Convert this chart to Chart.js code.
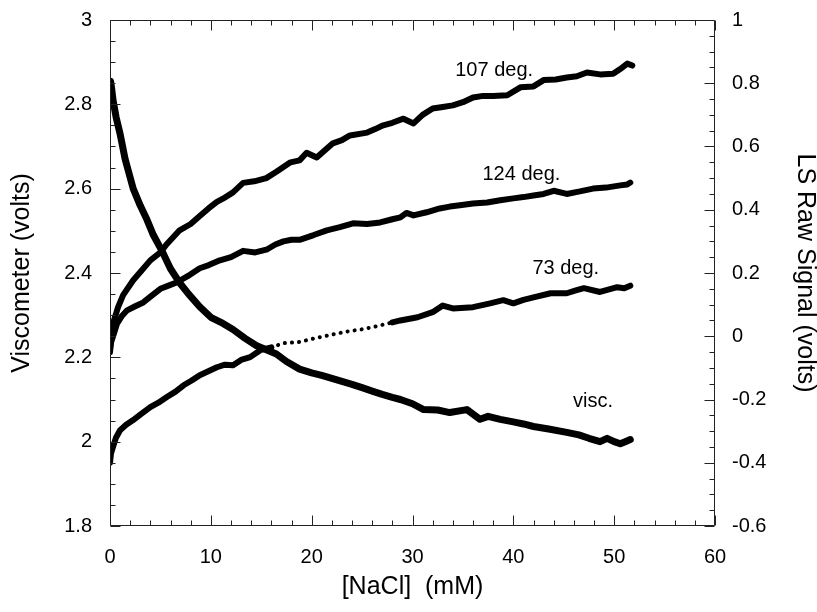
<!DOCTYPE html>
<html><head><meta charset="utf-8">
<script src="https://cdn.jsdelivr.net/npm/chart.js@4.4.1/dist/chart.umd.min.js"></script>
<style>html,body{margin:0;padding:0;background:#fff}#wrap{width:817px;height:612px;position:relative}</style>
</head><body><div id="wrap"><canvas id="c"></canvas></div>
<script>
// ---------- data ----------
const xTickVals   = [0, 10, 20, 30, 40, 50, 60];
const xTickLabels = ['0', '10', '20', '30', '40', '50', '60'];
const yTickVals   = [1.8, 2.0, 2.2, 2.4, 2.6, 2.8, 3.0];
const yTickLabels = ['1.8', '2', '2.2', '2.4', '2.6', '2.8', '3'];
const y1TickVals   = [-0.6, -0.4, -0.2, 0, 0.2, 0.4, 0.6, 0.8, 1.0];
const y1TickLabels = ['-0.6', '-0.4', '-0.2', '0', '0.2', '0.4', '0.6', '0.8', '1'];

// viscometer (left axis, volts)
const viscX = [0, 0.05, 0.15, 0.3, 0.6, 1.0, 1.5, 2.3, 3.0, 3.6, 4.3, 5.1, 6.0, 6.9, 7.8, 8.9, 10.0, 11.0, 12.2, 13.4, 14.5, 15.5, 16.5, 17.5, 18.8, 20, 21, 22, 23, 24, 25, 26, 27, 28, 28.8, 30, 31.1, 32.5, 33.7, 35.4, 36.7, 37.5, 38.7, 40, 41, 42, 43.5, 45.3, 46.5, 47.5, 48.6, 49.3, 50, 50.6, 51.1, 51.6];
const viscY = [2.81, 2.855, 2.84, 2.81, 2.77, 2.73, 2.67, 2.60, 2.56, 2.53, 2.49, 2.455, 2.41, 2.377, 2.35, 2.32, 2.295, 2.283, 2.266, 2.245, 2.228, 2.218, 2.208, 2.19, 2.172, 2.163, 2.157, 2.15, 2.143, 2.136, 2.128, 2.12, 2.112, 2.105, 2.10, 2.09, 2.076, 2.075, 2.069, 2.076, 2.053, 2.06, 2.053, 2.047, 2.042, 2.036, 2.03, 2.022, 2.016, 2.008, 2.0, 2.008, 2.0, 1.995, 2.0, 2.005];

// light scattering 107 deg (right axis, volts)
const ls107X = [0, 0.1, 0.3, 0.8, 1.3, 2.3, 3.2, 4.0, 5.0, 5.6, 6.9, 8.0, 8.9, 9.8, 10.6, 11.2, 12.2, 13.2, 14.3, 15.5, 16.5, 17.9, 18.8, 19.5, 20.5, 21.2, 22.1, 23.0, 23.8, 25.5, 26.3, 27.1, 28.0, 29.1, 30.1, 31.0, 32.0, 33.0, 34.0, 35.0, 36.0, 37.0, 38.0, 39.4, 40.7, 42.0, 43.0, 44.2, 45.3, 46.3, 47.3, 48.6, 49.9, 50.6, 51.3, 51.8];
const ls107Y = [-0.04, -0.01, 0.041, 0.092, 0.13, 0.177, 0.21, 0.24, 0.265, 0.29, 0.335, 0.355, 0.38, 0.405, 0.425, 0.435, 0.455, 0.485, 0.49, 0.50, 0.52, 0.55, 0.556, 0.58, 0.565, 0.585, 0.61, 0.62, 0.635, 0.644, 0.655, 0.667, 0.675, 0.688, 0.673, 0.70, 0.72, 0.725, 0.73, 0.74, 0.755, 0.76, 0.76, 0.762, 0.787, 0.79, 0.81, 0.812, 0.818, 0.822, 0.834, 0.828, 0.83, 0.845, 0.862, 0.856];

// light scattering 124 deg
const ls124X = [0, 0.1, 0.3, 0.7, 1.2, 1.7, 2.5, 3.3, 4.2, 5.0, 5.8, 6.6, 7.7, 8.9, 9.8, 10.9, 12.0, 13.2, 14.4, 15.6, 16.4, 17.2, 18.0, 18.8, 20.2, 21.5, 22.8, 24.1, 25.5, 26.8, 28.0, 28.8, 29.4, 30.1, 31.4, 32.7, 33.7, 34.7, 36.0, 37.4, 38.7, 40.0, 41.0, 42.0, 43.0, 44.0, 45.3, 46.6, 47.9, 49.2, 50.6, 51.3, 51.6];
const ls124Y = [-0.05, -0.02, 0.0, 0.04, 0.065, 0.082, 0.095, 0.107, 0.13, 0.15, 0.16, 0.17, 0.19, 0.215, 0.225, 0.24, 0.25, 0.27, 0.265, 0.275, 0.29, 0.30, 0.305, 0.305, 0.32, 0.335, 0.345, 0.357, 0.355, 0.36, 0.37, 0.376, 0.39, 0.382, 0.392, 0.404, 0.41, 0.414, 0.42, 0.423, 0.43, 0.436, 0.44, 0.445, 0.45, 0.46, 0.45, 0.458, 0.467, 0.47, 0.477, 0.48, 0.486];

// light scattering 73 deg
const ls73X = [0, 0.1, 0.3, 0.6, 1.0, 1.6, 2.3, 3.0, 4.0, 4.8, 5.6, 6.5, 7.3, 8.1, 8.9, 9.8, 10.6, 11.4, 12.2, 13.0, 13.9, 14.9, 16.0, 17.2, 18.8, 20.5, 22.0, 23.5, 25.0, 26.5, 28.0, 28.8, 30.5, 32.0, 33.0, 34.0, 36.0, 37.7, 39.0, 40.0, 41.0, 42.0, 43.7, 45.3, 46.2, 47.0, 48.6, 49.5, 50.3, 51.0, 51.6];
const ls73Y = [-0.40, -0.37, -0.35, -0.32, -0.297, -0.28, -0.265, -0.248, -0.224, -0.21, -0.193, -0.175, -0.155, -0.14, -0.123, -0.11, -0.098, -0.09, -0.092, -0.075, -0.066, -0.044, -0.035, -0.022, -0.018, -0.005, 0.005, 0.015, 0.022, 0.032, 0.044, 0.05, 0.06, 0.076, 0.097, 0.088, 0.092, 0.104, 0.114, 0.104, 0.115, 0.123, 0.136, 0.136, 0.145, 0.152, 0.14, 0.148, 0.155, 0.152, 0.16];

// curve labels (text, and the data point they sit at on the x / right axes)
const curveLabelText = ['107 deg.', '124 deg.', '73 deg.', 'visc.'];
const curveLabelX    = [38.1, 40.8, 45.2, 47.9];
const curveLabelY    = [0.84, 0.512, 0.215, -0.205];

// ---------- chart ----------
const FONT = "'Liberation Sans', Arial, Helvetica, sans-serif";
const pts = (xs, ys) => xs.map((x, i) => ({x: x, y: ys[i]}));

const frameTicks = {
  id: 'frameTicks',
  afterDatasetsDraw(chart) {
    const {ctx, chartArea: a, scales} = chart;
    const L = Math.round(a.left) + 0.5, R = Math.round(a.right) - 0.5;
    const T = Math.round(a.top) + 0.5, B = Math.round(a.bottom) - 0.5;
    ctx.save();
    ctx.strokeStyle = '#222';
    ctx.lineWidth = 1;
    ctx.beginPath();
    ctx.moveTo(L, T); ctx.lineTo(R, T); ctx.lineTo(R, B); ctx.lineTo(L, B); ctx.closePath();
    for (let i = 0; i <= 30; i++) {
      const px = Math.round(scales.x.getPixelForValue(i * 2)) + 0.5;
      const len = (i % 5 === 0) ? 10 : 5;
      ctx.moveTo(px, B); ctx.lineTo(px, B - len);
      ctx.moveTo(px, T); ctx.lineTo(px, T + len);
    }
    for (let i = 0; i <= 24; i++) {
      const py = Math.round(scales.y.getPixelForValue(1.8 + i * 0.05)) + 0.5;
      const len = (i % 4 === 0) ? 10 : 5;
      ctx.moveTo(L, py); ctx.lineTo(L + len, py);
    }
    for (let i = 0; i <= 32; i++) {
      const py = Math.round(scales.y1.getPixelForValue(-0.6 + i * 0.05)) + 0.5;
      const len = (i % 4 === 0) ? 10 : 5;
      ctx.moveTo(R, py); ctx.lineTo(R - len, py);
    }
    ctx.stroke();
    ctx.fillStyle = '#000';
    ctx.font = '20px ' + FONT;
    ctx.textAlign = 'center';
    ctx.textBaseline = 'middle';
    curveLabelText.forEach((t, i) => {
      ctx.fillText(t, scales.x.getPixelForValue(curveLabelX[i]), scales.y1.getPixelForValue(curveLabelY[i]));
    });
    ctx.restore();
  }
};

const lineDs = (label, data, axis, width) => ({
  label, data, yAxisID: axis,
  borderColor: '#000', backgroundColor: '#000',
  borderWidth: width, pointRadius: 0, tension: 0,
  borderJoinStyle: 'round', borderCapStyle: 'round', fill: false
});

const ds73 = lineDs('73 deg.', pts(ls73X, ls73Y), 'y1', 6);
ds73.segment = {
  borderDash: c => (c.p0.parsed.x >= 16 && c.p1.parsed.x <= 28.1) ? [0.1, 7] : undefined,
  borderWidth: c => (c.p0.parsed.x >= 16 && c.p1.parsed.x <= 28.1) ? 4 : 6
};

const hiddenGrid = len => ({display: false, drawOnChartArea: false, drawTicks: true, tickLength: len, tickColor: 'rgba(0,0,0,0)'});

new Chart(document.getElementById('c'), {
  type: 'line',
  data: {
    datasets: [
      lineDs('visc.', pts(viscX, viscY), 'y', 7),
      lineDs('107 deg.', pts(ls107X, ls107Y), 'y1', 6),
      lineDs('124 deg.', pts(ls124X, ls124Y), 'y1', 6),
      ds73
    ]
  },
  options: {
    responsive: true,
    maintainAspectRatio: false,
    animation: false,
    devicePixelRatio: 1,
    layout: {padding: {top: 20, left: 0, right: 0, bottom: 0}},
    plugins: {legend: {display: false}, tooltip: {enabled: false}},
    scales: {
      x: {
        type: 'linear', position: 'bottom', min: 0, max: 60,
        grid: hiddenGrid(19), border: {display: false},
        afterBuildTicks: s => { s.ticks = xTickVals.map(v => ({value: v})); },
        afterFit: s => { s.height = 86; },
        ticks: {color: '#000', padding: 0, maxRotation: 0, font: {family: FONT, size: 20},
                callback: (v, i) => xTickLabels[i]},
        title: {display: true, text: '[NaCl]  (mM)', color: '#000',
                font: {family: FONT, size: 25, lineHeight: 1}, padding: {top: 0, bottom: 12}}
      },
      y: {
        type: 'linear', position: 'left', min: 1.8, max: 3.0,
        grid: hiddenGrid(18), border: {display: false},
        afterBuildTicks: s => { s.ticks = yTickVals.map(v => ({value: v})); },
        afterFit: s => { s.width = 110; },
        ticks: {color: '#000', padding: 0, font: {family: FONT, size: 20},
                callback: (v, i) => yTickLabels[i]},
        title: {display: true, text: 'Viscometer (volts)', color: '#000',
                font: {family: FONT, size: 25, lineHeight: 1}, padding: {top: 10, bottom: 0}}
      },
      y1: {
        type: 'linear', position: 'right', min: -0.6, max: 1.0,
        grid: hiddenGrid(17), border: {display: false},
        afterBuildTicks: s => { s.ticks = y1TickVals.map(v => ({value: v})); },
        afterFit: s => { s.width = 102; },
        ticks: {color: '#000', padding: 0, font: {family: FONT, size: 20},
                callback: (v, i) => y1TickLabels[i]},
        title: {display: true, text: 'LS Raw Signal (volts)', color: '#000',
                font: {family: FONT, size: 25, lineHeight: 1}, padding: {top: 0, bottom: 0}}
      }
    }
  },
  plugins: [frameTicks]
});
</script></body></html>
